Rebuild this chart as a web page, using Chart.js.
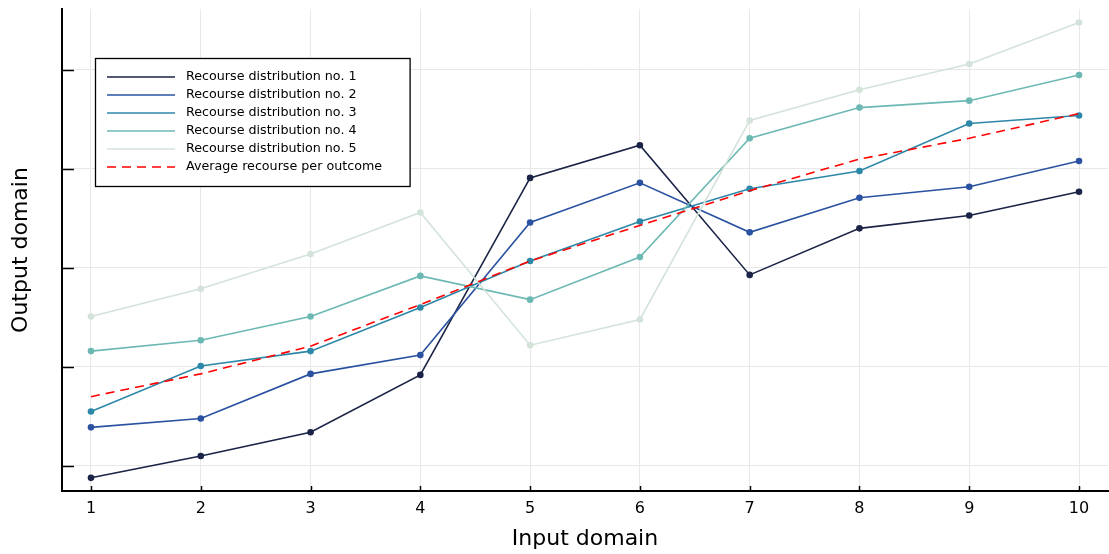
<!DOCTYPE html>
<html>
<head>
<meta charset="utf-8">
<script src="https://cdn.jsdelivr.net/npm/chart.js@4.4.1/dist/chart.umd.min.js"></script>
<style>
  html, body { margin: 0; padding: 0; background: #fff; overflow: hidden; }
  #wrap { width: 1109px; height: 554px; position: relative; }
</style>
</head>
<body>
<div id="wrap"><canvas id="chart"></canvas></div>
<script>
// values (y in axis units, ticks at 0..4, no y labels shown)
const xValues = [1, 2, 3, 4, 5, 6, 7, 8, 9, 10];
const xTicks = [1, 2, 3, 4, 5, 6, 7, 8, 9, 10];
const yTicks = [0, 1, 2, 3, 4];

const recourse1 = [-0.12, 0.10, 0.34, 0.92, 2.91, 3.24, 1.93, 2.40, 2.53, 2.77];
const recourse2 = [0.39, 0.48, 0.93, 1.12, 2.46, 2.86, 2.36, 2.71, 2.82, 3.08];
const recourse3 = [0.55, 1.01, 1.16, 1.60, 2.07, 2.47, 2.80, 2.98, 3.46, 3.54];
const recourse4 = [1.16, 1.27, 1.51, 1.92, 1.68, 2.11, 3.31, 3.62, 3.69, 3.95];
const recourse5 = [1.51, 1.79, 2.14, 2.56, 1.22, 1.48, 3.49, 3.80, 4.06, 4.48];
const average = [0.70, 0.93, 1.21, 1.63, 2.07, 2.43, 2.78, 3.10, 3.31, 3.56];

const seriesNames = [
  "Recourse distribution no. 1",
  "Recourse distribution no. 2",
  "Recourse distribution no. 3",
  "Recourse distribution no. 4",
  "Recourse distribution no. 5",
  "Average recourse per outcome"
];
const seriesColors = ["#1b2346", "#2a52a0", "#2d87a8", "#6cb8b3", "#d3e3da", "#ff0000"];

const FONT = "'DejaVu Sans', sans-serif";

function toPoints(vals) {
  return vals.map((v, i) => ({ x: xValues[i], y: v }));
}

const allSeries = [recourse1, recourse2, recourse3, recourse4, recourse5];

const datasets = allSeries.map((vals, i) => ({
  label: seriesNames[i],
  data: toPoints(vals),
  borderColor: seriesColors[i],
  backgroundColor: seriesColors[i],
  borderWidth: 1.6,
  pointRadius: 3.3,
  pointBorderWidth: 0,
  pointHoverRadius: 3.3,
  tension: 0,
  order: 6 - i // later series on top, like the original
}));

datasets.push({
  label: seriesNames[5],
  data: toPoints(average),
  borderColor: seriesColors[5],
  backgroundColor: seriesColors[5],
  borderWidth: 1.6,
  borderDash: [9, 6],
  pointRadius: 0,
  tension: 0,
  order: 0
});

// inward tick marks on both axes
const innerTicks = {
  id: "innerTicks",
  afterDraw(chart) {
    const { ctx, chartArea, scales } = chart;
    ctx.save();
    ctx.strokeStyle = "#000";
    ctx.lineWidth = 1.5;
    ctx.beginPath();
    yTicks.forEach(v => {
      const y = Math.round(scales.y.getPixelForValue(v)) + 0.5;
      ctx.moveTo(chartArea.left, y);
      ctx.lineTo(chartArea.left + 12, y);
    });
    xTicks.forEach(v => {
      const x = Math.round(scales.x.getPixelForValue(v)) + 0.5;
      ctx.moveTo(x, chartArea.bottom);
      ctx.lineTo(x, chartArea.bottom - 5);
    });
    ctx.stroke();
    ctx.restore();
  }
};

// boxed legend in the upper left corner of the plot
const boxLegend = {
  id: "boxLegend",
  afterDraw(chart) {
    const ctx = chart.ctx;
    const ds = chart.data.datasets;
    const left = 95.5, top = 58.5, rowH = 18, firstRow = 77;
    ctx.save();
    ctx.font = "12.7px " + FONT;
    let maxW = 0;
    ds.forEach(d => { maxW = Math.max(maxW, ctx.measureText(d.label).width); });
    const w = 186 - left + maxW + 28;
    const h = 128;
    ctx.fillStyle = "#fff";
    ctx.fillRect(left, top, w, h);
    ctx.strokeStyle = "#000";
    ctx.lineWidth = 1.3;
    ctx.strokeRect(left, top, w, h);
    ds.forEach((d, i) => {
      const y = firstRow + i * rowH;
      ctx.beginPath();
      ctx.strokeStyle = d.borderColor;
      ctx.lineWidth = 1.6;
      ctx.setLineDash(d.borderDash || []);
      ctx.moveTo(107, y);
      ctx.lineTo(175, y);
      ctx.stroke();
      ctx.setLineDash([]);
      ctx.fillStyle = "#000";
      ctx.textBaseline = "middle";
      ctx.textAlign = "left";
      ctx.fillText(d.label, 186, y);
    });
    ctx.restore();
  }
};

new Chart(document.getElementById("chart").getContext("2d"), {
  type: "line",
  data: { datasets },
  options: {
    responsive: true,
    maintainAspectRatio: false,
    animation: false,
    layout: { autoPadding: false, padding: { top: 9, right: 1, left: 0, bottom: 0 } },
    plugins: {
      legend: { display: false },
      tooltip: { enabled: false }
    },
    scales: {
      x: {
        type: "linear",
        min: 0.736,
        max: 10.264,
        afterBuildTicks: s => { s.ticks = xTicks.map(v => ({ value: v })); },
        afterFit: s => { s.height = 63; s.paddingLeft = 0; s.paddingRight = 0; },
        ticks: {
          color: "#000",
          font: { family: FONT, size: 16 },
          padding: 8,
          callback: v => String(v)
        },
        grid: { color: "#e8e8e8", lineWidth: 1, drawTicks: false },
        border: { display: true, color: "#000", width: 2 },
        title: {
          display: true,
          text: "Input domain",
          color: "#000",
          font: { family: FONT, size: 22 },
          padding: { top: 0, bottom: 2 }
        }
      },
      y: {
        type: "linear",
        min: -0.253,
        max: 4.616,
        afterBuildTicks: s => { s.ticks = yTicks.map(v => ({ value: v })); },
        afterFit: s => { s.width = 62; },
        ticks: { display: false },
        grid: { color: "#e8e8e8", lineWidth: 1, drawTicks: false },
        border: { display: true, color: "#000", width: 2 },
        title: {
          display: true,
          text: "Output domain",
          color: "#000",
          font: { family: FONT, size: 22 },
          padding: { top: 8, bottom: 0 }
        }
      }
    }
  },
  plugins: [innerTicks, boxLegend]
});
</script>
</body>
</html>
